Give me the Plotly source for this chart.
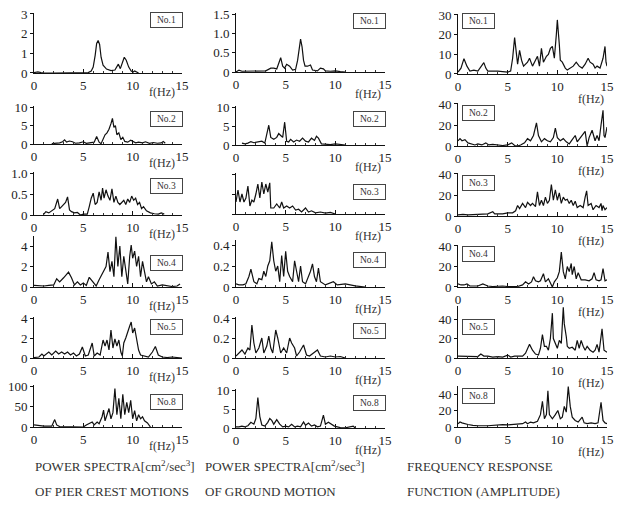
import plotly.graph_objects as go

# ---------------- data ----------------
# Column 1: power spectra of pier crest motions
P1_f = [0, 0.2, 0.4, 0.7, 1, 2, 3, 4, 5, 5.5, 5.8, 6.0, 6.2, 6.35, 6.5, 6.65, 6.8, 7.0, 7.35, 7.8, 8.2, 8.4, 8.55, 8.75, 8.95, 9.15, 9.35, 9.6, 9.85, 10.05, 10.2, 10.4, 10.6]
P1_v = [0.02, 0.05, 0.06, 0.02, 0, 0, 0, 0, 0, 0.02, 0.1, 0.3, 0.9, 1.5, 1.65, 1.45, 0.8, 0.4, 0.2, 0.12, 0.15, 0.3, 0.45, 0.22, 0.5, 0.8, 0.65, 0.3, 0.1, 0.05, 0.1, 0.05, 0]

P2_f = [1.8, 2.2, 2.6, 2.9, 3.1, 3.3, 3.6, 3.9, 4.2, 4.6, 5.0, 5.3, 5.7, 6.1, 6.35, 6.6, 6.8, 7.0, 7.2, 7.4, 7.6, 7.8, 7.95, 8.1, 8.25, 8.4, 8.6, 8.8, 9.0, 9.2, 9.5, 9.8, 10.0, 10.3, 10.6, 11.0, 11.3, 11.7, 12.1, 12.5, 12.9, 13.1, 13.3]
P2_v = [0.1, 0.2, 0.3, 0.6, 1.1, 0.5, 0.8, 0.6, 0.2, 0.3, 0.6, 0.2, 0.3, 0.5, 2.0, 0.5, 0.1, 1.5, 2.5, 3.0, 4.0, 5.5, 6.9, 4.5, 5.0, 2.5, 3.0, 1.2, 1.8, 0.7, 0.5, 1.0, 0.8, 0.3, 0.5, 0.3, 0.6, 0.2, 0.4, 0.2, 0.3, 0.7, 0.2]

P3_f = [1.0, 1.2, 1.5, 1.8, 2.1, 2.4, 2.6, 2.8, 3.0, 3.2, 3.4, 3.6, 3.8, 4.1, 4.4, 4.7, 5.0, 5.4, 5.6, 5.8, 6.0, 6.2, 6.4, 6.6, 6.8, 6.95, 7.1, 7.3, 7.5, 7.7, 7.9, 8.1, 8.3, 8.5, 8.7, 8.9, 9.1, 9.3, 9.5, 9.7, 9.9, 10.1, 10.3, 10.5, 10.7, 10.9, 11.1, 11.4, 11.8, 12.2, 12.6, 12.9, 13.2]
P3_v = [0.02, 0.08, 0.05, 0.1, 0.15, 0.38, 0.15, 0.2, 0.25, 0.3, 0.43, 0.12, 0.08, 0.05, 0.06, 0.0, 0.02, 0.02, 0.2, 0.4, 0.52, 0.25, 0.3, 0.55, 0.35, 0.64, 0.4, 0.6, 0.45, 0.35, 0.62, 0.3, 0.45, 0.3, 0.25, 0.3, 0.35, 0.25, 0.38, 0.3, 0.45, 0.35, 0.4, 0.25, 0.3, 0.15, 0.2, 0.1, 0.05, 0.03, 0.02, 0.05, 0.02]

P4_f = [0, 0.5, 1.0, 1.5, 2.0, 2.3, 2.6, 3.0, 3.3, 3.5, 3.8, 4.1, 4.4, 4.7, 5.0, 5.3, 5.6, 6.0, 6.3, 6.6, 7.0, 7.3, 7.5, 7.7, 7.9, 8.1, 8.3, 8.5, 8.7, 8.9, 9.1, 9.3, 9.5, 9.7, 9.85, 10.0, 10.2, 10.4, 10.6, 10.8, 11.0, 11.2, 11.4, 11.6, 11.9, 12.2, 12.5, 13.0, 13.5, 14.0, 14.5, 14.8]
P4_v = [0.15, 0.1, 0.1, 0.15, 0.2, 0.8, 0.5, 0.9, 1.2, 1.45, 0.9, 0.2, 0.5, 0.2, 0.4, 0.15, 0.95, 0.4, 0.1, 0.7, 1.5, 2.0, 3.4, 1.5, 2.5, 1.0, 4.9, 2.0, 4.0, 1.0, 3.0, 1.5, 0.3, 3.0, 4.1, 2.8, 3.5, 2.0, 3.0, 1.0, 2.5, 1.5, 0.5, 1.0, 0.3, 0.5, 0.1, 0.2, 0.1, 0.05, 0.1, 0.3]

P5_f = [0, 0.5, 0.8, 1.0, 1.5, 1.8, 2.2, 2.5, 2.8, 3.1, 3.4, 3.7, 4.0, 4.3, 4.6, 4.9, 5.2, 5.5, 5.9, 6.1, 6.4, 6.7, 7.0, 7.2, 7.4, 7.6, 7.8, 8.0, 8.2, 8.4, 8.6, 8.8, 8.95, 9.1, 9.3, 9.5, 9.7, 9.85, 10.0, 10.2, 10.4, 10.6, 10.8, 11.2, 11.6, 12.0, 12.3, 12.6, 13.0, 13.5, 14.0, 14.5, 15.0]
P5_v = [0.05, 0.1, 0.4, 0.2, 0.6, 0.3, 0.7, 0.4, 0.6, 0.4, 0.6, 0.3, 0.5, 0.2, 0.4, 1.1, 0.2, 0.3, 1.5, 0.2, 0.5, 0.3, 1.8, 1.2, 1.8, 0.8, 2.8, 1.0, 1.9, 1.2, 1.8, 0.6, 0.2, 1.5, 2.0, 2.5, 3.2, 3.6, 2.5, 3.0, 2.0, 0.8, 0.3, 0.2, 0.1, 0.6, 1.15, 0.3, 0.1, 0.05, 0.1, 0.05, 0.0]

P8_f = [0, 0.5, 1.0, 1.5, 1.8, 2.1, 2.3, 2.6, 3.0, 3.5, 4.0, 4.5, 5.0, 5.3, 5.6, 5.9, 6.1, 6.4, 6.6, 6.9, 7.05, 7.2, 7.4, 7.6, 7.8, 8.0, 8.2, 8.4, 8.6, 8.8, 9.0, 9.2, 9.4, 9.6, 9.8, 10.0, 10.2, 10.4, 10.6, 10.8, 11.0, 11.2, 11.5, 11.8]
P8_v = [5, 3, 2, 2, 2, 18, 5, 1, 1, 0.5, 0.5, 1, 0, 5, 8, 12, 5, 12, 8, 25, 41, 15, 30, 45, 20, 35, 94, 30, 70, 20, 80, 30, 60, 35, 65, 20, 40, 15, 30, 20, 25, 15, 10, 0]

# Column 2: power spectra of ground motion
G1_f = [0, 0.3, 0.6, 1.0, 1.3, 2.0, 3.0, 3.5, 3.8, 4.1, 4.3, 4.5, 4.7, 4.9, 5.1, 5.4, 5.7, 6.0, 6.2, 6.35, 6.5, 6.65, 6.8, 6.95, 7.2, 7.5, 7.7, 8.2, 8.5, 8.8, 9.0, 9.5, 10.0, 10.5, 11.0]
G1_v = [0, 0.05, 0.02, 0.02, 0.03, 0.03, 0.03, 0.1, 0.1, 0.08, 0.25, 0.37, 0.15, 0.1, 0.2, 0.15, 0.05, 0.07, 0.3, 0.65, 0.85, 0.65, 0.3, 0.15, 0.15, 0.18, 0.05, 0.03, 0.1, 0.08, 0.03, 0.02, 0.03, 0.01, 0]

G2_f = [0.6, 0.9, 1.2, 1.5, 1.8, 2.2, 2.6, 2.9, 3.1, 3.3, 3.5, 3.8, 4.1, 4.3, 4.5, 4.7, 4.9, 5.1, 5.3, 5.5, 5.8, 6.1, 6.4, 6.7, 7.0, 7.3, 7.6, 7.9, 8.1, 8.3, 8.6, 9.0, 9.5, 10.0, 10.5, 11.0]
G2_v = [0.5, 0.3, 0.5, 0.9, 0.6, 0.8, 1.0, 0.5, 2.5, 5.2, 2.0, 1.5, 2.0, 3.0, 2.5, 2.0, 6.0, 1.0, 0.8, 1.5, 0.8, 1.3, 1.0, 1.8, 1.0, 0.8, 1.8, 1.2, 2.3, 1.8, 0.3, 0.2, 0.1, 0.3, 0.1, 0]

G3_f = [0, 0.2, 0.4, 0.6, 0.8, 1.0, 1.2, 1.4, 1.6, 1.8, 2.0, 2.2, 2.4, 2.6, 2.8, 3.0, 3.2, 3.4, 3.5, 3.8, 4.1, 4.4, 4.6, 4.8, 5.1, 5.4, 5.7, 6.0, 6.3, 6.6, 7.0, 7.3, 7.6, 8.0, 8.5, 9.0, 9.5, 10.0]
G3_v = [0.3, 0.6, 0.3, 0.5, 0.3, 0.4, 0.7, 0.2, 0.35, 0.3, 0.5, 0.75, 0.4, 0.8, 0.5, 0.75, 0.55, 0.78, 0.15, 0.15, 0.25, 0.15, 0.3, 0.15, 0.2, 0.15, 0.2, 0.1, 0.12, 0.05, 0.15, 0.05, 0.08, 0.03, 0.05, 0.02, 0.04, 0.0]

G4_f = [0, 0.3, 0.7, 1.0, 1.3, 1.5, 1.8, 2.1, 2.3, 2.6, 2.8, 3.0, 3.2, 3.4, 3.6, 3.8, 4.0, 4.2, 4.4, 4.6, 4.8, 5.0, 5.2, 5.4, 5.7, 5.9, 6.1, 6.3, 6.5, 6.7, 7.0, 7.3, 7.5, 7.7, 7.9, 8.1, 8.3, 8.5, 9.0, 9.8, 10.2, 11.0, 11.5, 12.0, 13.0]
G4_v = [0.03, 0.02, 0.02, 0.03, 0.1, 0.17, 0.05, 0.03, 0.08, 0.07, 0.15, 0.1, 0.2, 0.25, 0.43, 0.25, 0.15, 0.2, 0.05, 0.3, 0.1, 0.34, 0.15, 0.1, 0.05, 0.25, 0.15, 0.05, 0.2, 0.05, 0.03, 0.1, 0.15, 0.22, 0.1, 0.05, 0.18, 0.05, 0.02, 0.05, 0.02, 0.03, 0.02, 0.01, 0]

G5_f = [0, 0.3, 0.6, 0.9, 1.2, 1.4, 1.6, 1.8, 2.0, 2.3, 2.6, 2.8, 3.1, 3.3, 3.5, 3.7, 4.0, 4.2, 4.5, 4.8, 5.1, 5.4, 5.6, 5.9, 6.1, 6.4, 6.8, 7.1, 7.4, 7.8, 8.2, 8.5, 9.0, 9.5, 10.0, 10.5, 11.0]
G5_v = [0.02, 0.05, 0.08, 0.04, 0.1, 0.08, 0.33, 0.15, 0.05, 0.1, 0.2, 0.05, 0.12, 0.22, 0.1, 0.05, 0.28, 0.2, 0.05, 0.1, 0.05, 0.2, 0.15, 0.1, 0.02, 0.06, 0.13, 0.03, 0.02, 0.05, 0.08, 0.02, 0.01, 0.02, 0.01, 0.015, 0]

G8_f = [0, 0.3, 0.6, 0.9, 1.2, 1.5, 1.8, 2.0, 2.2, 2.4, 2.6, 2.9, 3.2, 3.4, 3.6, 3.8, 4.1, 4.4, 4.7, 5.0, 5.3, 5.6, 5.9, 6.2, 6.5, 6.8, 7.0, 7.3, 7.6, 7.9, 8.2, 8.5, 8.8, 9.0, 9.3, 9.6, 9.9, 10.2, 10.5, 11.0, 11.5, 11.8, 12.0]
G8_v = [0.3, 0.3, 0.5, 0.3, 0.6, 1.5, 1.0, 2.5, 8.0, 3.0, 0.8, 0.5, 1.5, 2.5, 2.0, 1.0, 2.2, 1.0, 0.3, 0.5, 0.3, 1.0, 0.3, 0.5, 0.3, 1.6, 0.7, 1.3, 0.5, 0.8, 0.3, 0.5, 3.4, 1.0, 1.5, 0.9, 0.5, 0.3, 0.1, 0.05, 0.3, 0.5, 0]

# Column 3: frequency response function (amplitude)
R1_f = [0, 0.3, 0.6, 0.9, 1.2, 1.6, 2.0, 2.4, 2.6, 2.8, 3.0, 4.0, 4.5, 5.0, 5.3, 5.5, 5.7, 5.9, 6.0, 6.2, 6.4, 6.6, 7.0, 7.2, 7.5, 7.8, 8.0, 8.2, 8.4, 8.6, 8.9, 9.1, 9.3, 9.5, 9.7, 9.9, 10.0, 10.2, 10.3, 10.5, 10.8, 11.0, 11.3, 11.6, 11.9, 12.2, 12.5, 12.8, 13.1, 13.3, 13.6, 13.8, 14.0, 14.3, 14.6, 14.8, 14.9, 15.0]
R1_v = [1, 3, 7.8, 4, 1.5, 2, 1.5, 4, 5.8, 3, 1.5, 1.5, 1.2, 1, 1.5, 8, 18.5, 10, 5, 12, 7, 4, 6, 8, 4, 7, 9, 4, 13, 6, 9, 10, 13, 14, 8, 20, 27.5, 15, 7, 6, 3, 2, 3, 4, 6, 4, 3, 5, 8, 6, 5, 3, 4, 3, 8, 14, 6, 4]

R2_f = [0, 0.2, 0.4, 0.7, 1.0, 1.3, 1.7, 2.0, 2.4, 2.8, 3.1, 3.5, 4.0, 4.5, 5.0, 5.4, 5.7, 6.0, 6.3, 6.7, 7.0, 7.3, 7.6, 7.9, 8.1, 8.4, 8.7, 9.0, 9.3, 9.6, 9.8, 10.0, 10.3, 10.6, 10.9, 11.2, 11.5, 11.8, 12.0, 12.3, 12.6, 12.8, 13.0, 13.2, 13.5, 13.8, 14.0, 14.2, 14.4, 14.6, 14.7, 14.8, 15.0]
R2_v = [5, 7, 5, 6, 3, 2, 1, 2, 1, 3, 1, 1.5, 1, 0.5, 1, 3, 0.5, 0, 1, 3, 7, 5, 10, 22, 10, 4, 7, 5, 4, 8, 17, 8, 5, 7, 4, 2, 6, 10, 4, 8, 12, 14, 0, 8, 15, 5, 10, 5, 20, 34, 10, 8, 18]

R3_f = [0, 0.5, 1, 1.5, 2, 2.5, 3, 3.5, 3.7, 4, 4.5, 5, 5.5, 5.8, 6.0, 6.2, 6.5, 6.8, 7.0, 7.3, 7.5, 7.8, 8.0, 8.2, 8.4, 8.6, 8.8, 9.0, 9.2, 9.4, 9.6, 9.8, 10.0, 10.2, 10.4, 10.6, 10.8, 11.0, 11.2, 11.4, 11.6, 11.8, 12.0, 12.3, 12.6, 12.8, 12.95, 13.1, 13.4, 13.6, 13.9, 14.2, 14.4, 14.5, 14.6, 14.8, 15.0]
R3_v = [1, 1.5, 1, 1.2, 2, 2, 2, 4, 2, 2, 2, 3, 3, 5, 10, 7, 12, 8, 13, 10, 12, 9, 23, 10, 15, 10, 18, 12, 15, 30, 15, 25, 15, 22, 12, 18, 15, 16, 12, 15, 10, 14, 8, 10, 8, 18, 24, 10, 12, 6, 10, 8, 12, 5, 10, 6, 8]

R4_f = [0, 0.3, 0.6, 0.9, 1.2, 1.5, 2.0, 2.5, 2.8, 3.0, 3.5, 4, 4.5, 5, 5.5, 6, 6.5, 6.8, 7.1, 7.4, 7.6, 7.8, 8.1, 8.3, 8.6, 8.8, 9.1, 9.3, 9.5, 9.7, 10.0, 10.2, 10.4, 10.6, 10.8, 11.0, 11.2, 11.4, 11.5, 11.7, 11.9, 12.1, 12.4, 12.8, 13.2, 13.5, 13.7, 13.9, 14.2, 14.4, 14.6, 14.8, 15.0]
R4_v = [3, 2, 2, 3, 1, 1, 1, 3, 2, 1, 0.5, 1, 1, 0.5, 0.5, 0.5, 2, 5, 3, 5, 10, 6, 5, 6, 13, 5, 8, 4, 0, 5, 9, 15, 34, 15, 8, 20, 15, 23, 12, 20, 8, 14, 7, 7, 6, 8, 14, 7, 6, 7, 18, 6, 7]

R5_f = [0, 0.5, 1, 1.5, 2, 2.3, 2.6, 3, 3.5, 4, 4.5, 5, 5.3, 5.7, 6, 6.5, 6.8, 7.0, 7.2, 7.5, 7.8, 8.1, 8.3, 8.5, 8.7, 8.9, 9.1, 9.3, 9.5, 9.6, 9.8, 10.0, 10.2, 10.4, 10.6, 10.7, 10.9, 11.0, 11.2, 11.5, 11.8, 12.0, 12.2, 12.4, 12.6, 12.8, 13.0, 13.3, 13.6, 13.8, 14.0, 14.2, 14.4, 14.5, 14.7, 14.9, 15.0]
R5_v = [2, 2, 1.5, 1.5, 1.5, 4, 2, 2, 1, 1.5, 1, 3, 1, 2, 2, 2, 5, 10, 14, 8, 4, 3, 10, 24, 12, 12, 8, 20, 46, 20, 14, 10, 18, 15, 52, 35, 22, 12, 10, 11, 8, 18, 10, 18, 12, 8, 12, 8, 6, 8, 14, 6, 22, 30, 8, 7, 6]

R8_f = [0, 0.2, 0.4, 0.6, 1.0, 1.5, 2, 3, 3.5, 4, 4.5, 5, 5.5, 6, 6.5, 6.8, 7.0, 7.3, 7.6, 8.0, 8.3, 8.5, 8.7, 8.9, 9.05, 9.2, 9.5, 9.8, 10.05, 10.3, 10.5, 10.7, 10.9, 11.1, 11.3, 11.5, 11.8, 12.1, 12.5, 12.7, 13.0, 13.4, 13.8, 14.1, 14.4, 14.6, 14.8, 15.0]
R8_v = [4, 6, 5, 4, 3, 2, 1.5, 1.5, 2, 2, 3, 2.5, 3, 4, 4, 6, 4, 6, 5, 7, 15, 31, 10, 15, 44, 15, 10, 15, 20, 10, 12, 25, 18, 49, 25, 12, 8, 6, 12, 5, 4, 5, 4, 5, 30, 8, 5, 4]

# tick labels
X_TICKS = [0, 5, 10, 15]
Y_TICKS = {
    "P1": [0, 1, 2, 3], "P2": [0, 5, 10], "P3": [0, 0.5, 1.0], "P4": [0, 2, 4], "P5": [0, 2, 4], "P8": [0, 50, 100],
    "G1": [0, 0.5, 1.0, 1.5], "G2": [0, 5, 10], "G3": [0, 0.5, 1.0], "G4": [0, 0.2, 0.4], "G5": [0, 0.2, 0.4], "G8": [0, 5, 10],
    "R1": [0, 10, 20, 30], "R2": [0, 20, 40], "R3": [0, 20, 40], "R4": [0, 20, 40], "R5": [0, 20, 40], "R8": [0, 20, 40],
}
Y_TEXT = {
    "P3": ["0", "0.5", "1.0"], "G1": ["0", "0.5", "1.0", "1.5"],
    "G4": ["0", "0.2", "0.4"], "G5": ["0", "0.2", "0.4"],
}
LABELS = ["No.1", "No.2", "No.3", "No.4", "No.5", "No.8"]
CAPTIONS = [
    ("POWER SPECTRA[cm<sup>2</sup>/sec<sup>3</sup>]", "OF PIER CREST MOTIONS"),
    ("POWER SPECTRA[cm<sup>2</sup>/sec<sup>3</sup>]", "OF GROUND MOTION"),
    ("FREQUENCY RESPONSE", "FUNCTION (AMPLITUDE)"),
]

SERIES = {
    "P1": (P1_f, P1_v), "P2": (P2_f, P2_v), "P3": (P3_f, P3_v), "P4": (P4_f, P4_v), "P5": (P5_f, P5_v), "P8": (P8_f, P8_v),
    "G1": (G1_f, G1_v), "G2": (G2_f, G2_v), "G3": (G3_f, G3_v), "G4": (G4_f, G4_v), "G5": (G5_f, G5_v), "G8": (G8_f, G8_v),
    "R1": (R1_f, R1_v), "R2": (R2_f, R2_v), "R3": (R3_f, R3_v), "R4": (R4_f, R4_v), "R5": (R5_f, R5_v), "R8": (R8_f, R8_v),
}

# ---------------- layout geometry (pixels) ----------------
W, H = 620, 521
FONT = "Liberation Serif"
COL_X = [(34, 182), (236, 385), (458, 607)]
COL_KEYS = [["P1", "P2", "P3", "P4", "P5", "P8"],
            ["G1", "G2", "G3", "G4", "G5", "G8"],
            ["R1", "R2", "R3", "R4", "R5", "R8"]]
# (zero_px, top_tick_px, top_range_value)
GEOM = {
    "P1": (73, 14, 3.05), "P2": (144, 107, 10.3), "P3": (215, 173, 1.03), "P4": (287, 246, 5.0), "P5": (358, 318, 4.1), "P8": (427, 386, 102),
    "G1": (72, 14, 1.53), "G2": (145, 107, 10.3), "G3": (214, 174, 1.02), "G4": (287, 245, 0.45), "G5": (358, 318, 0.41), "G8": (428, 390, 10.3),
    "R1": (74, 15, 30.5), "R2": (146, 104, 40.5), "R3": (216, 174, 40.5), "R4": (287, 246, 40.5), "R5": (358, 319, 53), "R8": (427, 394, 50),
}
BOX_X = [166, 369, 478]
BOX_Y = [[20, 119, 186, 263, 327, 402], [21, 119, 192, 260, 331, 403], [21, 113, 183, 254, 327, 396]]
FHZ_X = [162, 368, 591]
FHZ_DY = [19, 22, 25]

fig = go.Figure()
layout = dict(width=W, height=H, autosize=False,
              margin=dict(l=0, r=0, t=0, b=0, pad=0, autoexpand=False),
              paper_bgcolor="white", plot_bgcolor="white", showlegend=False,
              font=dict(family=FONT, color="#222", size=12))
annotations = []
idx = 0
for c in range(3):
    x0, x1 = COL_X[c]
    for r in range(6):
        idx += 1
        key = COL_KEYS[c][r]
        f, v = SERIES[key]
        zero_px, tick_px, ymax = GEOM[key]
        tvals = Y_TICKS[key]
        scale = (zero_px - tick_px) / tvals[-1]
        top_px = zero_px - scale * ymax
        sfx = "" if idx == 1 else str(idx)
        fig.add_trace(go.Scatter(x=f, y=v, mode="lines", line=dict(color="#111", width=1.2),
                                 xaxis="x" + sfx, yaxis="y" + sfx, hoverinfo="skip"))
        layout["xaxis" + sfx] = dict(
            domain=[x0 / W, x1 / W], range=[0, 15], anchor="y" + sfx, automargin=False,
            tickvals=X_TICKS, ticks="inside", ticklen=4, tickcolor="#111",
            minor=dict(dtick=1, ticks="inside", ticklen=2.5, tickcolor="#333"),
            showline=True, linecolor="#111", linewidth=1, showgrid=False, zeroline=False,
            tickfont=dict(family=FONT, size=13, color="#222"), fixedrange=True)
        ydict = dict(
            domain=[1 - zero_px / H, 1 - top_px / H], range=[0, ymax], anchor="x" + sfx, automargin=False,
            tickvals=tvals, ticks="outside", ticklen=3, tickcolor="#111",
            showline=True, linecolor="#111", linewidth=1, showgrid=False, zeroline=False,
            tickfont=dict(family=FONT, size=13, color="#222"), fixedrange=True)
        if key in Y_TEXT:
            ydict["ticktext"] = Y_TEXT[key]
        if key == "G3":
            ydict["showticklabels"] = False
        layout["yaxis" + sfx] = ydict
        # box label
        annotations.append(dict(x=BOX_X[c] / W, y=1 - BOX_Y[c][r] / H, xref="paper", yref="paper",
                                xanchor="center", yanchor="middle",
                                text=LABELS[r], showarrow=False, width=29, height=12,
                                bordercolor="#444", borderwidth=1, borderpad=1,
                                font=dict(family=FONT, size=9.5, color="#333")))
        # f(Hz)
        annotations.append(dict(x=FHZ_X[c] / W, y=1 - (zero_px + FHZ_DY[c]) / H, xref="paper", yref="paper",
                                text="f(Hz)", showarrow=False, xanchor="center", yanchor="middle",
                                font=dict(family=FONT, size=12, color="#333")))

CAP_X = [33, 203, 405]
for c in range(3):
    for i, line in enumerate(CAPTIONS[c]):
        annotations.append(dict(x=CAP_X[c] / W, y=1 - (466 + 25 * i) / H, xref="paper", yref="paper",
                                text=line, showarrow=False, xanchor="left", yanchor="middle",
                                font=dict(family=FONT, size=13, color="#333")))

layout["annotations"] = annotations
fig.update_layout(**layout)
fig.write_html("out.html", config={"displayModeBar": False},
               post_script="document.body.style.margin='0';document.body.style.padding='0';")
